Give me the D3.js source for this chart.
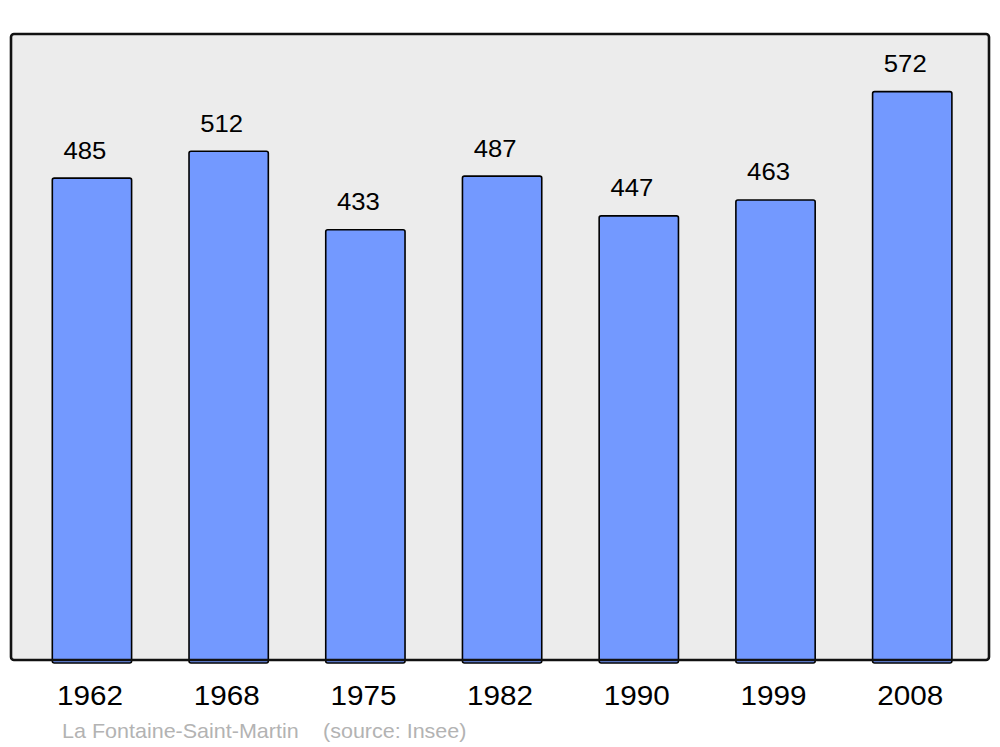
<!DOCTYPE html>
<html>
<head>
<meta charset="utf-8">
<script src="https://cdn.jsdelivr.net/npm/d3@7"></script>
<style>
  html, body { margin: 0; padding: 0; background: #ffffff; }
  svg { display: block; font-family: "Liberation Sans", Arial, sans-serif; }
</style>
</head>
<body>
<svg id="chart" width="1000" height="747"></svg>
<script>
const years = ["1962", "1968", "1975", "1982", "1990", "1999", "2008"];
const population = [485, 512, 433, 487, 447, 463, 572];
const placeName = "La Fontaine-Saint-Martin";
const sourceName = "(source: Insee)";

const svg = d3.select("#chart");
const frame = { left: 11, top: 34, right: 989, bottom: 660 };

const x = d3.scaleBand()
  .domain(years)
  .range([23.6, 980.6])
  .paddingInner(0.42)
  .paddingOuter(0.21);

const y = d3.scaleLinear()
  .domain([0, 630])
  .range([frame.bottom, frame.top]);

svg.append("rect")
  .attr("x", frame.left)
  .attr("y", frame.top)
  .attr("width", frame.right - frame.left)
  .attr("height", frame.bottom - frame.top)
  .attr("rx", 3)
  .attr("fill", "#ececec");

const data = years.map((yr, i) => ({ year: yr, value: population[i] }));

svg.append("g").selectAll("rect")
  .data(data)
  .enter().append("rect")
  .attr("x", d => x(d.year))
  .attr("y", d => y(d.value))
  .attr("width", x.bandwidth())
  .attr("height", d => y(0) - y(d.value) + 3)
  .attr("rx", 2)
  .attr("fill", "#7399ff")
  .attr("stroke", "#000")
  .attr("stroke-width", 1.6);

svg.append("rect")
  .attr("x", frame.left)
  .attr("y", frame.top)
  .attr("width", frame.right - frame.left)
  .attr("height", frame.bottom - frame.top)
  .attr("rx", 3)
  .attr("fill", "none")
  .attr("stroke", "#111")
  .attr("stroke-width", 2.6);

// value labels
svg.append("g").selectAll("text")
  .data(data)
  .enter().append("text")
  .attr("transform", d => `translate(${x(d.year) + x.bandwidth() / 2 - 7},${y(d.value) - 19.5}) scale(1.07,1)`)
  .attr("text-anchor", "middle")
  .attr("font-size", 24)
  .attr("fill", "#000")
  .text(d => d.value);

// x axis labels
const xAxis = d3.axisBottom(x).tickSize(0).tickPadding(0);
const gx = svg.append("g")
  .attr("transform", `translate(-2, 705)`)
  .call(xAxis);
gx.select(".domain").remove();
gx.selectAll("text")
  .attr("font-size", 28)
  .attr("font-family", "Liberation Sans, Arial, sans-serif")
  .attr("fill", "#000")
  .attr("dy", null)
  .attr("y", 0)
  .attr("transform", "scale(1.06,1)");

// source
svg.append("text")
  .attr("transform", "translate(62,738) scale(1.05,1)")
  .attr("font-size", 20.5)
  .attr("fill", "#b3b3b3")
  .text(placeName);
svg.append("text")
  .attr("transform", "translate(323,738) scale(1.05,1)")
  .attr("font-size", 20.5)
  .attr("fill", "#b3b3b3")
  .text(sourceName);
</script>
</body>
</html>
